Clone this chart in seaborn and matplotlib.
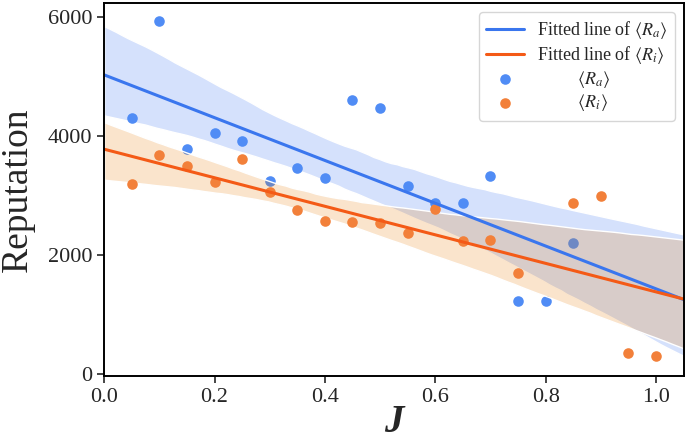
import numpy as np
import matplotlib
matplotlib.use("Agg")
import matplotlib.pyplot as plt
import seaborn as sns

# data
j_a = [0.05, 0.10, 0.15, 0.20, 0.25, 0.30, 0.35, 0.40, 0.45, 0.50,
       0.55, 0.60, 0.65, 0.70, 0.75, 0.80, 0.85]
rep_a = [4300, 5930, 3780, 4050, 3920, 3240, 3470, 3300, 4600, 4470,
         3160, 2880, 2870, 3330, 1230, 1230, 2210]

j_i = [0.05, 0.10, 0.15, 0.20, 0.25, 0.30, 0.35, 0.40, 0.45, 0.50,
       0.55, 0.60, 0.65, 0.70, 0.75, 0.85, 0.90, 0.95, 1.00]
rep_i = [3190, 3680, 3490, 3220, 3610, 3060, 2750, 2580, 2560, 2540,
         2380, 2770, 2230, 2260, 1700, 2880, 2990, 360, 310]

x_ticks = [0.0, 0.2, 0.4, 0.6, 0.8, 1.0]
y_ticks = [0, 2000, 4000, 6000]

sns.set_style("ticks")
plt.rcParams["font.family"] = ["Liberation Serif", "DejaVu Serif"]
plt.rcParams["mathtext.fontset"] = "stix"

fig = plt.figure(figsize=(6.85, 4.42), dpi=100)
ax = fig.add_axes([0.152, 0.149, 0.846, 0.844])
ax.set_xlim(0, 1.05)
ax.set_ylim(-30, 6230)

blue_pt, blue_ln, blue_band = "#508cf5", "#3a76ee", (0.23, 0.45, 0.95, 0.21)
orng_pt, orng_ln, orng_band = "#f2803a", "#f45a16", (0.9, 0.47, 0.0, 0.2)

np.random.seed(3)
handles = []
series = [(j_a, rep_a, blue_pt, blue_ln, blue_band),
          (j_i, rep_i, orng_pt, orng_ln, orng_band)]
for xs, ys, cp, cl, cb in series:
    sns.regplot(x=xs, y=ys, ax=ax, truncate=False, scatter=False, color=cp,
                line_kws=dict(color=cl, lw=2.2))
    line = ax.lines[-1]
    ax.collections[-1].set_facecolor(cb)
    ax.collections[-1].set_alpha(None)
    sns.scatterplot(x=xs, y=ys, ax=ax, color=cp, s=58, linewidth=0)
    pts = ax.collections[-1]
    handles.append((line, pts))

ax.set_xticks(x_ticks)
ax.set_yticks(y_ticks)
ax.tick_params(labelsize=16, width=1.2, length=5)
for s in ax.spines.values():
    s.set_linewidth(1.4)
    s.set_color("black")

ax.set_xlabel("J", fontsize=28, fontstyle="italic", fontweight="bold", labelpad=-2)
ax.set_ylabel("Reputation", fontsize=27, labelpad=9)

labels = [r"Fitted line of $\langle R_a\rangle$",
          r"Fitted line of $\langle R_i\rangle$",
          r"         $\langle R_a\rangle$",
          r"         $\langle R_i\rangle$"]
ax.legend([handles[0][0], handles[1][0], handles[0][1], handles[1][1]], labels,
          loc="upper right", fontsize=13, frameon=True, handlelength=2.1,
          borderpad=0.4, labelspacing=0.15, handletextpad=0.7)

fig.savefig("out.png", dpi=100)
